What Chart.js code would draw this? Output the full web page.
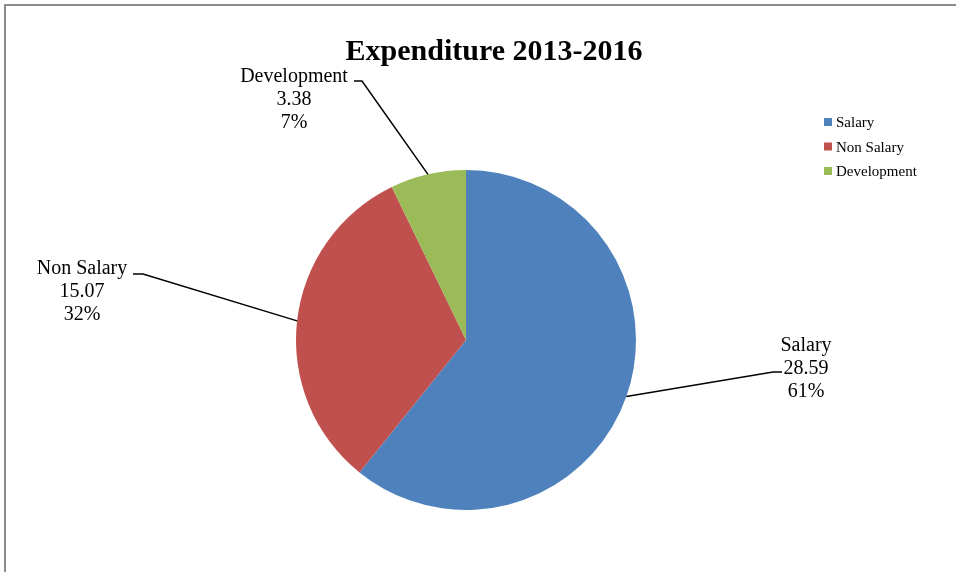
<!DOCTYPE html>
<html lang="en">
<head>
  <meta charset="UTF-8" />
  <title>Expenditure 2013-2016</title>
  <script src="https://cdn.jsdelivr.net/npm/chart.js"></script>
  <style>
    body {
      margin: 0;
      background: #ffffff;
      overflow: hidden;
    }
    .frame {
      position: absolute;
      left: 4px;
      top: 4px;
      width: 1000px;
      height: 1000px;
      border-left: 2px solid #8c8c8c;
      border-top: 2px solid #8c8c8c;
    }
    .chart-box {
      position: absolute;
      left: 0;
      top: 0;
      width: 956px;
      height: 572px;
    }
  </style>
</head>
<body>
  <div class="frame"></div>
  <div class="chart-box"><canvas id="pieChart"></canvas></div>

  <script>
    const categories = ['Salary', 'Non Salary', 'Development'];
    const amounts = [28.59, 15.07, 3.38];
    const sliceColors = ['#4F81BD', '#C0504D', '#9BBB59'];
    const chartTitle = 'Expenditure 2013-2016';

    const serif = "'Liberation Serif', 'Times New Roman', serif";

    // where each data label sits, relative to the pie centre
    const labelSpots = [
      { text: [340, 11], elbow: [307, 32], stub: [316, 32] },
      { text: [-384, -66], elbow: [-323, -66], stub: [-333, -66] },
      { text: [-172, -258], elbow: [-104, -259], stub: [-112, -259] }
    ];

    const total = amounts.reduce((a, b) => a + b, 0);

    const decorations = {
      id: 'decorations',
      afterDraw(chart) {
        const ctx = chart.ctx;
        const meta = chart.getDatasetMeta(0);
        ctx.save();

        // title
        ctx.fillStyle = '#000';
        ctx.font = 'bold 30px ' + serif;
        ctx.textAlign = 'center';
        ctx.textBaseline = 'alphabetic';
        ctx.fillText(chartTitle, 494, 60);

        // legend
        ctx.font = '15px ' + serif;
        ctx.textAlign = 'left';
        categories.forEach((name, i) => {
          const y = 127 + i * 24.5;
          ctx.fillStyle = sliceColors[i];
          ctx.fillRect(824, y - 9, 8, 8);
          ctx.fillStyle = '#000';
          ctx.fillText(name, 836, y);
        });

        // data labels with leader lines
        meta.data.forEach((arc, i) => {
          const p = arc.getProps(['x', 'y', 'startAngle', 'endAngle', 'outerRadius'], true);
          const mid = (p.startAngle + p.endAngle) / 2;
          const ax = p.x + Math.cos(mid) * p.outerRadius;
          const ay = p.y + Math.sin(mid) * p.outerRadius;
          const s = labelSpots[i];

          ctx.strokeStyle = '#000';
          ctx.lineWidth = 1.5;
          ctx.beginPath();
          ctx.moveTo(ax, ay);
          ctx.lineTo(p.x + s.elbow[0], p.y + s.elbow[1]);
          ctx.lineTo(p.x + s.stub[0], p.y + s.stub[1]);
          ctx.stroke();

          const pct = Math.round(amounts[i] / total * 100) + '%';
          const lines = [categories[i], amounts[i].toFixed(2), pct];
          ctx.fillStyle = '#000';
          ctx.font = '20px ' + serif;
          ctx.textAlign = 'center';
          lines.forEach((t, j) => {
            ctx.fillText(t, p.x + s.text[0], p.y + s.text[1] + j * 23);
          });
        });

        ctx.restore();
      }
    };

    new Chart(document.getElementById('pieChart'), {
      type: 'pie',
      data: {
        labels: categories,
        datasets: [{
          data: amounts,
          backgroundColor: sliceColors,
          borderWidth: 0
        }]
      },
      options: {
        responsive: true,
        maintainAspectRatio: false,
        animation: false,
        layout: {
          padding: { left: 296, right: 320, top: 170, bottom: 62 }
        },
        plugins: {
          legend: { display: false },
          title: { display: false },
          tooltip: { enabled: false }
        }
      },
      plugins: [decorations]
    });
  </script>
</body>
</html>
